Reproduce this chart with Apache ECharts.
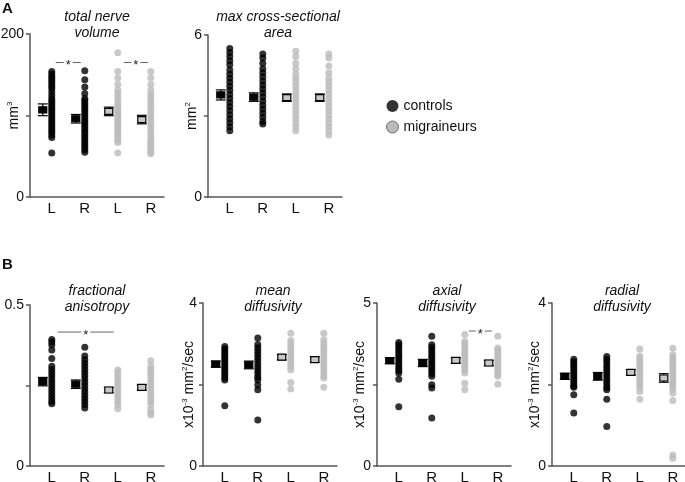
<!DOCTYPE html>
<html>
<head>
<meta charset="utf-8">
<script src="https://cdn.jsdelivr.net/npm/echarts@6/dist/echarts.min.js"></script>
<style>
html, body { margin: 0; padding: 0; background: #fff; }
#main { width: 685px; height: 482px; }
</style>
</head>
<body>
<div id="main"></div>
<script>
// x labels (columns 1..4)
var sideLabels = ['L', 'R', 'L', 'R'];

// A - total nerve volume (mm3)
var volCtrlL = [154, 151, 148, 145, 142, 139, 136, 133, 129, 125, 121, 118, 115, 112, 109, 106, 103, 100, 97, 94, 91, 88, 85, 82, 79, 76, 73, 54];
var volCtrlR = [155, 144, 135, 127, 121, 118, 115, 112, 109, 106, 103, 100, 97, 94, 91, 88, 85, 82, 79, 76, 73, 70, 67, 64, 61, 58, 55];
var volMigL = [177, 154, 146, 138, 131, 127, 123, 119, 115, 112, 109, 106, 103, 100, 97, 94, 91, 88, 85, 82, 79, 76, 73, 70, 67, 54];
var volMigR = [154, 146, 138, 131, 126, 122, 118, 114, 110, 106, 102, 98, 94, 90, 86, 82, 78, 74, 70, 67, 64, 61, 58, 55, 53];
var volMean = [107, 96, 105, 95];
var volSem = [6, 4, 4, 4];
var volSig = [[1.12, 1.88, 165], [3.18, 3.91, 165]];

// A - max cross-sectional area (mm2)
var csaCtrlL = [5.5, 5.35, 5.2, 5.05, 4.9, 4.7, 4.55, 4.4, 4.25, 4.1, 3.95, 3.8, 3.65, 3.5, 3.35, 3.2, 3.05, 2.9, 2.75, 2.6, 2.45];
var csaCtrlR = [5.3, 5.15, 4.95, 4.75, 4.6, 4.45, 4.3, 4.15, 4.0, 3.85, 3.7, 3.55, 3.4, 3.25, 3.1, 2.95, 2.8, 2.7];
var csaMigL = [5.4, 5.2, 4.95, 4.75, 4.55, 4.4, 4.25, 4.1, 3.95, 3.8, 3.65, 3.5, 3.35, 3.2, 3.05, 2.9, 2.75, 2.6, 2.45];
var csaMigR = [5.3, 5.15, 4.85, 4.6, 4.4, 4.25, 4.1, 3.95, 3.8, 3.65, 3.5, 3.35, 3.2, 3.05, 2.9, 2.75, 2.6, 2.45, 2.3];
var csaMean = [3.78, 3.7, 3.68, 3.68];
var csaSem = [0.15, 0.12, 0.1, 0.1];

// B - fractional anisotropy
var faCtrlL = [0.393, 0.385, 0.376, 0.36, 0.334, 0.31, 0.3, 0.29, 0.28, 0.27, 0.26, 0.25, 0.24, 0.23, 0.22, 0.21, 0.2, 0.193];
var faCtrlR = [0.369, 0.342, 0.33, 0.32, 0.31, 0.3, 0.29, 0.28, 0.27, 0.26, 0.25, 0.24, 0.23, 0.22, 0.21, 0.2, 0.19, 0.18];
var faMigL = [0.298, 0.29, 0.28, 0.27, 0.26, 0.25, 0.24, 0.23, 0.22, 0.21, 0.2, 0.19, 0.178];
var faMigR = [0.327, 0.31, 0.3, 0.29, 0.28, 0.27, 0.26, 0.25, 0.24, 0.23, 0.22, 0.21, 0.2, 0.19, 0.175, 0.165, 0.158];
var faMean = [0.262, 0.254, 0.236, 0.244];
var faSem = [0.01, 0.01, 0.005, 0.005];
var faSig = [[1.18, 2.88, 0.416]];

// B - mean diffusivity
var mdCtrlL = [2.93, 2.88, 2.82, 2.76, 2.7, 2.64, 2.58, 2.52, 2.46, 2.4, 2.34, 2.28, 2.22, 2.16, 2.11, 1.48];
var mdCtrlR = [3.14, 2.98, 2.9, 2.82, 2.74, 2.66, 2.58, 2.5, 2.42, 2.34, 2.26, 2.18, 2.11, 1.99, 1.87, 1.13];
var mdMigL = [3.26, 3.08, 3.0, 2.92, 2.84, 2.76, 2.68, 2.6, 2.52, 2.44, 2.36, 2.05, 1.89];
var mdMigR = [3.26, 3.1, 3.02, 2.94, 2.86, 2.78, 2.7, 2.62, 2.54, 2.46, 2.38, 2.3, 2.22, 2.16, 1.93];
var mdMean = [2.5, 2.48, 2.67, 2.61];
var mdSem = [0.05, 0.07, 0.04, 0.04];

// B - axial diffusivity
var adCtrlL = [3.79, 3.72, 3.64, 3.56, 3.48, 3.4, 3.32, 3.24, 3.16, 3.08, 3.0, 2.92, 2.85, 2.66, 1.82];
var adCtrlR = [3.98, 3.72, 3.64, 3.56, 3.48, 3.4, 3.32, 3.24, 3.16, 3.08, 3.0, 2.92, 2.84, 2.75, 2.49, 2.39, 1.47];
var adMigL = [4.03, 3.82, 3.74, 3.66, 3.58, 3.5, 3.42, 3.34, 3.26, 3.18, 3.1, 3.02, 2.94, 2.85, 2.54, 2.34];
var adMigR = [3.98, 3.62, 3.54, 3.46, 3.38, 3.3, 3.22, 3.14, 3.06, 2.98, 2.9, 2.82, 2.75, 2.51];
var adMean = [3.23, 3.16, 3.24, 3.16];
var adSem = [0.06, 0.08, 0.05, 0.05];
var adSig = [[3.12, 3.82, 4.14]];

// B - radial diffusivity
var rdCtrlL = [2.62, 2.56, 2.5, 2.44, 2.38, 2.32, 2.26, 2.2, 2.14, 2.08, 2.02, 1.96, 1.93, 1.75, 1.3];
var rdCtrlR = [2.69, 2.62, 2.55, 2.48, 2.41, 2.34, 2.27, 2.2, 2.13, 2.06, 1.99, 1.92, 1.87, 1.64, 0.97];
var rdMigL = [2.87, 2.7, 2.63, 2.56, 2.49, 2.42, 2.35, 2.28, 2.21, 2.14, 2.07, 2.0, 1.93, 1.83, 1.64];
var rdMigR = [2.89, 2.73, 2.66, 2.59, 2.52, 2.45, 2.38, 2.31, 2.24, 2.17, 2.1, 2.03, 1.96, 1.89, 1.79, 1.61, 0.27, 0.19];
var rdMean = [2.2, 2.2, 2.3, 2.16];
var rdSem = [0.05, 0.07, 0.04, 0.08];

var FONT = 'Arial, "Liberation Sans", Helvetica, sans-serif';
var AXIS_COLOR = '#555';
var diffName = 'x10{sup|-3} mm{sup|2}/sec';

var panels = [
    { title: 'total nerve\nvolume', yName: 'mm{sup|3}', max: 200, interval: 100,
      ctrl: [volCtrlL, volCtrlR], mig: [volMigL, volMigR], mean: volMean, sem: volSem, sig: volSig,
      left: 30, top: 34, height: 163, titleX: 97, titleY: 9, nameGap: 8 },
    { title: 'max cross-sectional\narea', yName: 'mm{sup|2}', max: 6, interval: 3,
      ctrl: [csaCtrlL, csaCtrlR], mig: [csaMigL, csaMigR], mean: csaMean, sem: csaSem, sig: [],
      left: 208, top: 35, height: 162, titleX: 278, titleY: 9, nameGap: 8 },
    { title: 'fractional\nanisotropy', yName: '', max: 0.5, interval: 0.25,
      ctrl: [faCtrlL, faCtrlR], mig: [faMigL, faMigR], mean: faMean, sem: faSem, sig: faSig,
      left: 30, top: 305, height: 161, titleX: 97, titleY: 283, nameGap: 8 },
    { title: 'mean\ndiffusivity', yName: diffName, max: 4, interval: 2,
      ctrl: [mdCtrlL, mdCtrlR], mig: [mdMigL, mdMigR], mean: mdMean, sem: mdSem, sig: [],
      left: 203, top: 303, height: 163, titleX: 273, titleY: 283, nameGap: 6 },
    { title: 'axial\ndiffusivity', yName: diffName, max: 5, interval: 2.5,
      ctrl: [adCtrlL, adCtrlR], mig: [adMigL, adMigR], mean: adMean, sem: adSem, sig: adSig,
      left: 377, top: 303, height: 163, titleX: 447, titleY: 283, nameGap: 9 },
    { title: 'radial\ndiffusivity', yName: diffName, max: 4, interval: 2,
      ctrl: [rdCtrlL, rdCtrlR], mig: [rdMigL, rdMigR], mean: rdMean, sem: rdSem, sig: [],
      left: 552, top: 303, height: 163, titleX: 622, titleY: 283, nameGap: 9 }
];

// mean +/- sem marker, drawn a little to the left of the dot column
function renderMean(params, api) {
    var x = api.value(0), m = api.value(1), s = api.value(2), grp = api.value(3);
    var c = api.coord([x, m]);
    var hi = api.coord([x, m + s]);
    var lo = api.coord([x, m - s]);
    var cx = c[0] - 9;
    var fill = grp === 0 ? '#000' : '#c8c8c8';
    var st = { stroke: '#000', lineWidth: 1.2 };
    return {
        type: 'group',
        children: [
            { type: 'line', shape: { x1: cx, y1: hi[1] - 1, x2: cx, y2: lo[1] + 1 }, style: st },
            { type: 'line', shape: { x1: cx - 5, y1: hi[1] - 1, x2: cx + 5, y2: hi[1] - 1 }, style: st },
            { type: 'line', shape: { x1: cx - 5, y1: lo[1] + 1, x2: cx + 5, y2: lo[1] + 1 }, style: st },
            { type: 'rect', shape: { x: cx - 4, y: c[1] - 3, width: 8, height: 6 },
              style: { fill: fill, stroke: '#000', lineWidth: 1.2 } }
        ]
    };
}

// significance bar with asterisk
function renderSig(params, api) {
    var y = api.value(2);
    var p1 = api.coord([api.value(0), y]);
    var p2 = api.coord([api.value(1), y]);
    var mid = (p1[0] + p2[0]) / 2;
    return {
        type: 'group',
        children: [
            { type: 'line', shape: { x1: p1[0], y1: p1[1], x2: p2[0], y2: p2[1] },
              style: { stroke: '#666', lineWidth: 1 } },
            { type: 'text', x: mid, y: p1[1] + 3,
              style: { text: '*', align: 'center', verticalAlign: 'middle', fill: '#222',
                       font: '13px ' + FONT, backgroundColor: '#fff', padding: [0, 2] } }
        ]
    };
}

var grids = [], xAxes = [], yAxes = [], titles = [], series = [];

panels.forEach(function (p, i) {
    grids.push({ left: p.left, top: p.top, width: 134, height: p.height,
                 containLabel: false, outerBoundsMode: 'none' });

    xAxes.push({
        gridIndex: i, type: 'value', min: 0.34, max: 4.4,
        axisLine: { show: true, lineStyle: { color: AXIS_COLOR, width: 1.5 } },
        axisTick: { show: false },
        splitLine: { show: false },
        axisLabel: {
            customValues: [1, 2, 3, 4],
            formatter: function (v) { return sideLabels[Math.round(v) - 1]; },
            fontSize: 15, color: '#111', margin: 4
        }
    });

    yAxes.push({
        gridIndex: i, type: 'value', min: 0, max: p.max, interval: p.interval,
        axisLine: { show: true, lineStyle: { color: AXIS_COLOR, width: 1.5 } },
        axisTick: { show: true, length: 4, lineStyle: { color: AXIS_COLOR, width: 1.5 } },
        splitLine: { show: false },
        axisLabel: {
            formatter: function (v) { return (v === 0 || v === p.max) ? String(v) : ''; },
            fontSize: 14, color: '#111', margin: 6
        },
        name: p.yName, nameLocation: 'middle', nameGap: p.nameGap, nameMoveOverlap: false,
        nameTextStyle: {
            fontSize: 14, color: '#111', fontFamily: FONT,
            rich: { sup: { fontSize: 8, padding: [0, 0, 8, 0], color: '#111' } }
        }
    });

    titles.push({
        text: p.title, left: p.titleX, top: p.titleY, textAlign: 'center', padding: 0,
        textStyle: { fontSize: 14, fontStyle: 'italic', fontWeight: 'normal', color: '#111',
                     lineHeight: 16, fontFamily: FONT }
    });

    series.push({
        name: 'controls', type: 'scatter', xAxisIndex: i, yAxisIndex: i, symbolSize: 7,
        itemStyle: { color: '#000' },
        data: p.ctrl[0].map(function (v) { return [1, v]; })
            .concat(p.ctrl[1].map(function (v) { return [2, v]; }))
    });
    series.push({
        name: 'migraineurs', type: 'scatter', xAxisIndex: i, yAxisIndex: i, symbolSize: 7,
        itemStyle: { color: '#bcbcbc' },
        data: p.mig[0].map(function (v) { return [3, v]; })
            .concat(p.mig[1].map(function (v) { return [4, v]; }))
    });
    series.push({
        type: 'custom', xAxisIndex: i, yAxisIndex: i, renderItem: renderMean,
        encode: { x: 0, y: 1 }, z: 5,
        data: p.mean.map(function (m, k) { return [k + 1, m, p.sem[k], k < 2 ? 0 : 1]; })
    });
    if (p.sig.length) {
        series.push({
            type: 'custom', xAxisIndex: i, yAxisIndex: i, renderItem: renderSig,
            encode: { x: [0, 1], y: 2 }, z: 5, data: p.sig
        });
    }
});

var chart = echarts.init(document.getElementById('main'), null, { renderer: 'canvas' });
chart.setOption({
    animation: false,
    backgroundColor: '#fff',
    textStyle: { fontFamily: FONT },
    title: titles,
    grid: grids,
    xAxis: xAxes,
    yAxis: yAxes,
    legend: {
        orient: 'vertical', left: 381, top: 94, itemWidth: 12, itemHeight: 12, itemGap: 7,
        icon: 'circle', selectedMode: false,
        textStyle: { fontSize: 14, color: '#111' },
        data: [
            { name: 'controls', itemStyle: { color: '#000' } },
            { name: 'migraineurs', itemStyle: { color: '#aaa', borderColor: '#555', borderWidth: 1 } }
        ]
    },
    graphic: [
        { type: 'text', left: 2, top: 1, style: { text: 'A', font: 'bold 15px ' + FONT, fill: '#111' } },
        { type: 'text', left: 2, top: 257, style: { text: 'B', font: 'bold 15px ' + FONT, fill: '#111' } }
    ],
    series: series
});
</script>
</body>
</html>
